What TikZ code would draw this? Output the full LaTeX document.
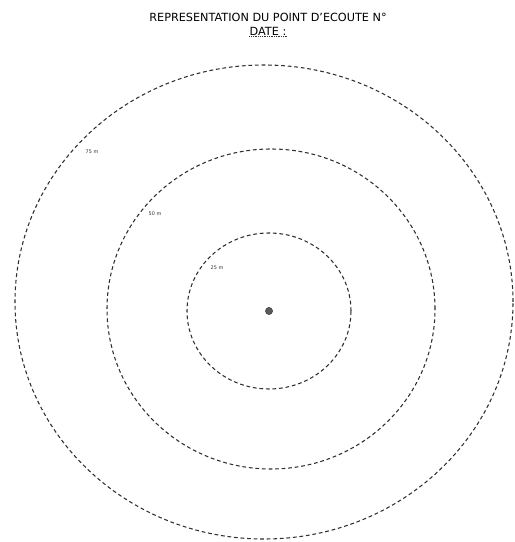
\documentclass[tikz,border=0pt]{standalone}
\usepackage{fontspec}
\setmainfont{DejaVu Sans}
\usepackage{xcolor}
\definecolor{RingGrey}{HTML}{2E2E2E}
\definecolor{PointGrey}{HTML}{5A5A5A}
\tikzset{
    % Ring styles - dashed ellipses
    ring/.style={
        draw=RingGrey,
        line width=0.9pt,
        dash pattern=on 3.2pt off 2.4pt
    },
    % Text styles
    titletext/.style={
        font=\fontsize{9.6}{11}\selectfont,
        text=black,
        inner sep=0pt
    },
    distlabel/.style={
        font=\fontsize{4.2}{5}\selectfont,
        text=RingGrey,
        inner sep=0pt
    },
    point/.style={
        circle,
        fill=PointGrey,
        draw=RingGrey,
        line width=0.3pt,
        minimum size=0.22cm,
        inner sep=0pt
    }
}
\begin{document}
\begin{tikzpicture}[x=0.03cm, y=0.03cm]
    \clip (0,0) rectangle (515,542);
    \fill[white] (0,0) rectangle (515,542);

    % Heading
    \node[titletext] (title) at (268,525) {REPRESENTATION DU POINT D'ECOUTE N°};
    \node[titletext] (date) at (268,511) {DATE :};
    \draw[RingGrey, line width=0.5pt, densely dotted] ([yshift=-1.2pt]date.south west) -- ([yshift=-1.2pt]date.south east);

    % Listening point and rings
    \coordinate (c1) at (269,231);
    \coordinate (c2) at (271,233);
    \coordinate (c3) at (264,240);
    \node[point] (pt) at (c1) {};

    \draw[ring] (c1) ellipse [x radius=82, y radius=78];
    \draw[ring] (c2) ellipse [x radius=164, y radius=160];
    \draw[ring] (c3) ellipse [x radius=249, y radius=237];

    % Distance labels
    \node[distlabel] (d75) at (92,390) {75 m};
    \node[distlabel] (d50) at (155,328) {50 m};
    \node[distlabel] (d25) at (217,274) {25 m};
\end{tikzpicture}
\end{document}
